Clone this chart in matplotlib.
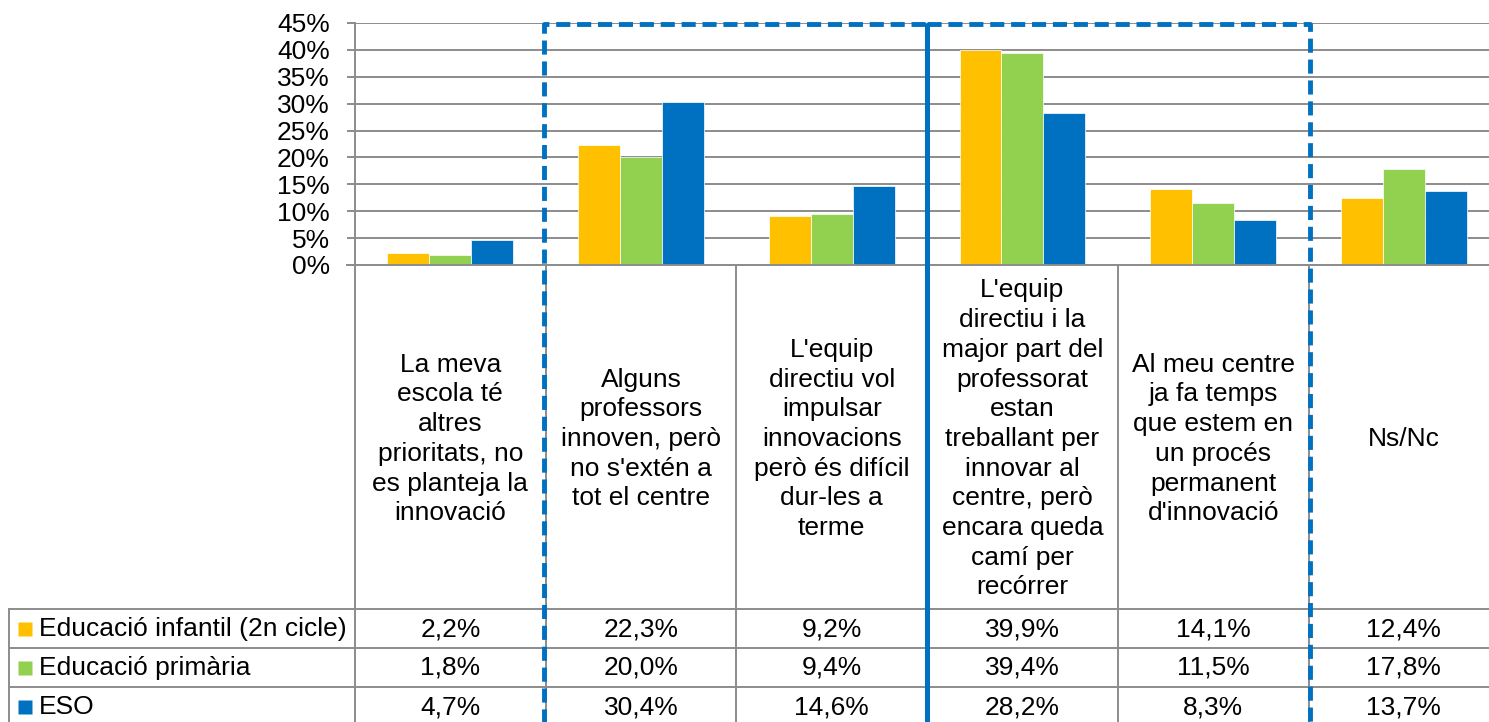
import matplotlib.pyplot as plt
import numpy as np

plt.rcParams['font.family'] = ['Liberation Sans', 'DejaVu Sans']

# data
categories = [
    "La meva\nescola té\naltres\nprioritats, no\nes planteja la\ninnovació",
    "Alguns\nprofessors\ninnoven, però\nno s'extén a\ntot el centre",
    "L'equip\ndirectiu vol\nimpulsar\ninnovacions\nperò és difícil\ndur-les a\nterme",
    "L'equip\ndirectiu i la\nmajor part del\nprofessorat\nestan\ntreballant per\ninnovar al\ncentre, però\nencara queda\ncamí per\nrecórrer",
    "Al meu centre\nja fa temps\nque estem en\nun procés\npermanent\nd'innovació",
    "Ns/Nc",
]
series_names = ['Educació infantil (2n cicle)', 'Educació primària', 'ESO']
infantil = [2.2, 22.3, 9.2, 39.9, 14.1, 12.4]
primaria = [1.8, 20.0, 9.4, 39.4, 11.5, 17.8]
eso = [4.7, 30.4, 14.6, 28.2, 8.3, 13.7]
colors = ['#FFC000', '#92D050', '#0070C0']
yticks = [0, 5, 10, 15, 20, 25, 30, 35, 40, 45]

series = [infantil, primaria, eso]

# layout (pixels)
FW, FH = 1489, 722
X0, CW = 355, 190.7      # plot left edge, category width
Y0, YT = 265, 23         # y of 0% and 45%
GRID = '#8c8c8c'
FS = 19

fig = plt.figure(figsize=(FW / 100, FH / 100), dpi=100)
ax = fig.add_axes([X0 / FW, 1 - Y0 / FH, 6 * CW / FW, (Y0 - YT) / FH])

x = np.arange(len(categories))
bw = 0.22
for k, (vals, c) in enumerate(zip(series, colors)):
    ax.bar(x + (k - 1) * bw, vals, width=bw, color=c, edgecolor='white',
           linewidth=0.5, zorder=2)

ax.set_xlim(-0.5, 5.5)
ax.set_ylim(0, 45)
ax.set_yticks(yticks)
ax.set_yticklabels([f'{t}%' for t in yticks], fontsize=FS)
ax.set_xticks([])
ax.yaxis.grid(True, color=GRID, linewidth=1.4, zorder=0)
ax.tick_params(axis='y', length=6, width=1.4, color=GRID, pad=12)
for s in ['top', 'right', 'bottom']:
    ax.spines[s].set_visible(False)
ax.spines['left'].set_color(GRID)
ax.spines['left'].set_linewidth(1.4)

# overlay in pixel coordinates for the data table
ov = fig.add_axes([0, 0, 1, 1], zorder=3)
ov.set_xlim(0, FW)
ov.set_ylim(FH, 0)
ov.axis('off')

XR = X0 + 6 * CW


def cx(i):
    return X0 + (i + 0.5) * CW


lw = 1.4
ov.plot([X0 - 8, XR], [Y0, Y0], color=GRID, lw=lw)
for k in range(7):
    xk = X0 + k * CW
    ov.plot([xk, xk], [Y0, FH + 5], color=GRID, lw=lw)
row_top = [609, 648, 687]
for yt in row_top:
    ov.plot([9, XR], [yt, yt], color=GRID, lw=lw)
ov.plot([9, 9], [609, FH + 5], color=GRID, lw=lw)

for i, lab in enumerate(categories):
    ov.text(cx(i), 439, lab, ha='center', va='center', fontsize=FS,
            linespacing=1.3, multialignment='center')

for r, (name, vals, c) in enumerate(zip(series_names, series, colors)):
    yc = row_top[r] + 20
    ov.plot([24.5], [yc], marker='s', ms=10.5, color=c, mec='none')
    ov.text(39, yc, name, ha='left', va='center', fontsize=FS)
    for i, v in enumerate(vals):
        ov.text(cx(i), yc, f'{v:.1f}%'.replace('.', ','), ha='center',
                va='center', fontsize=FS)

# dashed highlight boxes (shared middle edge drawn solid)
BLUE = '#0070C0'
dash = dict(color=BLUE, lw=3.5, linestyle=(0, (2.9, 1.4)))
xa = X0 + 1 * CW - 2
xm = X0 + 3 * CW
xb = X0 + 5 * CW + 1
ov.plot([xa, xa, xm], [FH + 10, 24, 24], **dash)
ov.plot([xm, xb, xb], [24, 24, FH + 10], **dash)
ov.plot([xm, xm], [22.5, FH + 10], color=BLUE, lw=3.6, solid_capstyle='butt')

fig.savefig('out.png', dpi=100)
